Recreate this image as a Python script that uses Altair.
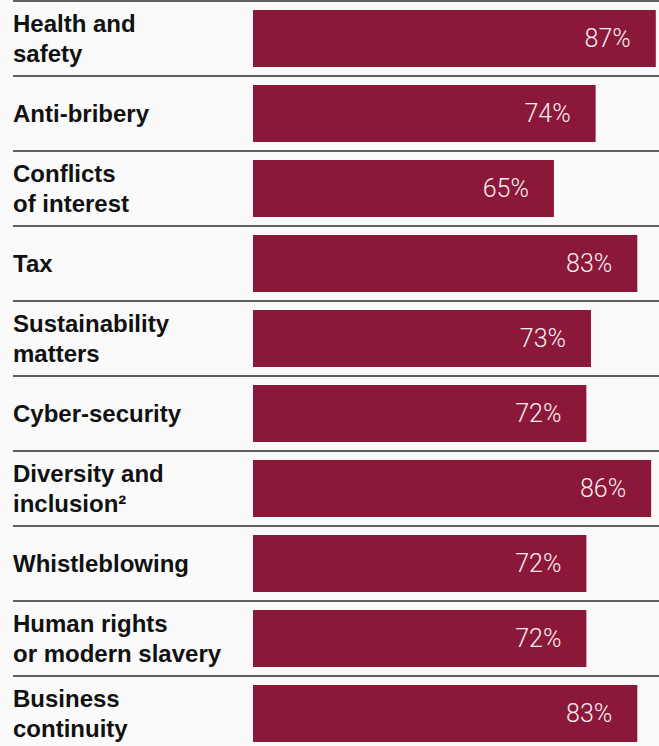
import altair as alt
import pandas as pd

categories = [
    "Health and safety",
    "Anti-bribery",
    "Conflicts of interest",
    "Tax",
    "Sustainability matters",
    "Cyber-security",
    "Diversity and inclusion²",
    "Whistleblowing",
    "Human rights or modern slavery",
    "Business continuity",
]
label_line1 = ["Health and", "Anti-bribery", "Conflicts", "Tax", "Sustainability",
               "Cyber-security", "Diversity and", "Whistleblowing", "Human rights", "Business"]
label_line2 = ["safety", "", "of interest", "", "matters",
               "", "inclusion²", "", "or modern slavery", "continuity"]
values = [87, 74, 65, 83, 73, 72, 86, 72, 72, 83]
value_labels = [f"{v}%" for v in values]

df = pd.DataFrame({
    "cat": categories, "value": values, "label": value_labels,
    "l1": label_line1, "l2": label_line2,
})
df["two"] = df["l2"] != ""

y_scale = alt.Scale(domain=categories, range=[1, 751], paddingInner=0.24, paddingOuter=0.12)
x_scale = alt.Scale(domain=[0, 100], range=[253, 716])

y_enc = alt.Y("cat:N", scale=y_scale, axis=None, sort=categories)
y_top = alt.Y("cat:N", scale=y_scale, axis=None, sort=categories, bandPosition=0)

base = alt.Chart(df)

rules = base.mark_rule(color="#2a2a2a", strokeWidth=1.3, yOffset=-9, x=13, x2=659).encode(
    y=y_top,
    x=alt.value(13),
    x2=alt.value(659),
)

bars = base.mark_bar(color="#8b1839").encode(
    y=y_enc,
    x=alt.X("value:Q", scale=x_scale, axis=None),
)

vals = base.mark_text(
    align="right", baseline="middle", dx=-25, fontSize=25, font="Roboto",
    fontWeight=300, color="#f7eef1",
).encode(
    y=y_enc,
    x=alt.X("value:Q", scale=x_scale, axis=None),
    text="label:N",
)

name_style = dict(align="left", baseline="middle", fontSize=24, font="Liberation Sans",
                  fontWeight="bold", color="#111111")

names_single = base.transform_filter("!datum.two").mark_text(dy=1, **name_style).encode(
    y=y_enc, x=alt.value(13), text="l1:N",
)
names_first = base.transform_filter("datum.two").mark_text(dy=-14, **name_style).encode(
    y=y_enc, x=alt.value(13), text="l1:N",
)
names_second = base.transform_filter("datum.two").mark_text(dy=16, **name_style).encode(
    y=y_enc, x=alt.value(13), text="l2:N",
)

chart = (
    alt.layer(rules, bars, vals, names_single, names_first, names_second)
    .properties(width=659, height=746, background="#fafafa", padding=0, autosize="none")
    .configure_view(stroke=None)
)

chart.save("out.html", embed_options={"renderer": "svg", "actions": False})
